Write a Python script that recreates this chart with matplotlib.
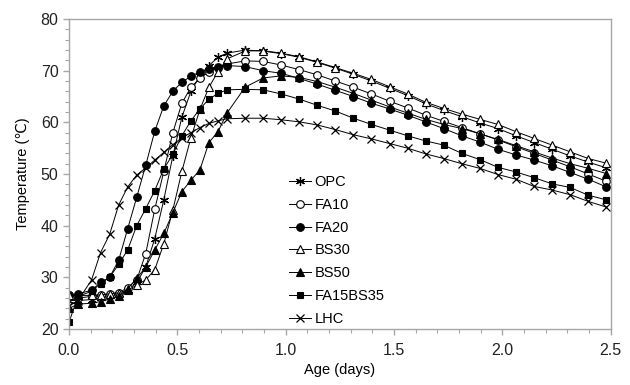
import numpy as np
import matplotlib
matplotlib.use("Agg")
import matplotlib.pyplot as plt
from matplotlib.ticker import MultipleLocator, FormatStrFormatter

plt.rcParams['font.family'] = ['Liberation Sans', 'DejaVu Sans']

hours = [0, 1, 2.5, 3.5, 4.5, 5.5, 6.5, 7.5, 8.5, 9.5, 10.5, 11.5, 12.5, 13.5, 14.5, 15.5, 16.5, 17.5,
         19.5, 21.5, 23.5, 25.5, 27.5, 29.5, 31.5, 33.5, 35.5, 37.5, 39.5, 41.5, 43.5, 45.5, 47.5,
         49.5, 51.5, 53.5, 55.5, 57.5, 59.5]
days = [h / 24.0 for h in hours]

OPC = [25.5, 25.5, 25.7, 26.0, 26.3, 26.7, 27.5, 29.0, 32.0, 37.5, 45.0, 53.5, 61.0, 66.0, 69.0, 71.0, 72.6, 73.4,
       74.0, 73.8, 73.3, 72.6, 71.6, 70.5, 69.3, 68.0, 66.6, 65.2, 63.6, 62.3, 61.1, 59.9, 58.8, 57.4, 56.1, 54.8, 53.5, 52.3, 51.2]
FA10 = [26.5, 26.0, 26.3, 26.5, 26.8, 27.0, 28.0, 29.5, 34.6, 43.2, 50.5, 58.0, 63.7, 66.8, 68.5, 69.8, 70.6, 71.3,
        71.9, 71.8, 71.1, 70.2, 69.2, 68.0, 66.8, 65.5, 64.1, 62.8, 61.4, 60.2, 59.0, 57.8, 56.6, 55.3, 54.0, 52.7, 51.4, 50.0, 48.6]
FA20 = [26.5, 26.8, 27.5, 29.0, 30.0, 33.3, 39.4, 45.5, 51.7, 58.3, 63.2, 66.0, 67.8, 68.9, 69.8, 70.4, 70.8, 71.0,
        70.8, 70.0, 69.5, 68.5, 67.4, 66.2, 65.0, 63.7, 62.6, 61.4, 60.1, 58.8, 57.4, 56.2, 54.8, 53.7, 52.7, 51.6, 50.3, 49.0, 47.5]
BS30 = [26.5, 26.5, 26.5, 26.6, 26.8, 27.0, 27.5, 28.5, 29.5, 31.5, 36.5, 43.0, 50.5, 57.0, 62.5, 66.8, 69.8, 72.3,
        73.8, 73.9, 73.4, 72.7, 71.7, 70.6, 69.5, 68.3, 66.9, 65.5, 63.9, 62.7, 61.6, 60.6, 59.6, 58.2, 56.9, 55.6, 54.3, 53.0, 52.1]
BS50 = [24.0, 24.8, 25.0, 25.3, 25.8, 26.3, 27.8, 29.8, 32.0, 35.3, 38.5, 42.5, 46.6, 48.8, 50.8, 56.1, 58.2, 61.8,
        66.8, 68.6, 69.0, 68.7, 67.9, 66.8, 65.6, 64.3, 63.0, 61.8, 60.6, 59.6, 58.8, 57.8, 56.7, 55.5, 54.3, 53.1, 52.0, 51.1, 50.1]
FA15BS35 = [21.3, 26.3, 27.3, 28.8, 30.0, 32.5, 35.3, 40.0, 43.3, 46.8, 51.0, 53.8, 57.4, 60.3, 62.6, 64.5, 65.6, 66.3,
            66.4, 66.3, 65.5, 64.5, 63.3, 62.2, 60.8, 59.6, 58.5, 57.4, 56.4, 55.6, 54.0, 52.8, 51.3, 50.4, 49.3, 48.1, 47.4, 45.9, 45.0]
LHC = [24.5, 25.5, 29.5, 34.8, 38.3, 44.0, 47.5, 49.8, 51.2, 52.7, 54.2, 55.7, 57.0, 58.0, 59.0, 59.8, 60.3, 60.7,
       60.8, 60.8, 60.5, 60.1, 59.5, 58.6, 57.6, 56.8, 55.9, 55.0, 53.9, 53.0, 52.0, 51.1, 49.9, 49.0, 47.6, 46.9, 46.0, 44.7, 43.6]

labels = ["OPC", "FA10", "FA20", "BS30", "BS50", "FA15BS35", "LHC"]
series = [OPC, FA10, FA20, BS30, BS50, FA15BS35, LHC]
styles = [
    dict(marker=(6, 2, 0), mfc='black', ms=6.5, mew=0.9),
    dict(marker='o', mfc='white', ms=5.5, mew=0.8),
    dict(marker='o', mfc='black', ms=5.5, mew=0.8),
    dict(marker='^', mfc='white', ms=5.5, mew=0.8),
    dict(marker='^', mfc='black', ms=5.5, mew=0.8),
    dict(marker='s', mfc='black', ms=5, mew=0.8),
    dict(marker='x', mfc='black', ms=5.5, mew=0.9),
]

fig = plt.figure(figsize=(6.3, 3.85), dpi=100)
ax = fig.add_axes([0.1095, 0.1455, 0.86, 0.805])

for lab, ys, st in zip(labels, series, styles):
    ax.plot(days, ys, color='black', lw=0.7, mec='black', label=lab, **st)

ax.set_xlim(0, 2.5)
ax.set_ylim(20, 80)
ax.xaxis.set_major_locator(MultipleLocator(0.5))
ax.xaxis.set_minor_locator(MultipleLocator(0.1))
ax.yaxis.set_major_locator(MultipleLocator(10))
ax.yaxis.set_minor_locator(MultipleLocator(2))
ax.xaxis.set_major_formatter(FormatStrFormatter('%.1f'))

gray = '#a6a6a6'
for sp in ax.spines.values():
    sp.set_color(gray)
    sp.set_linewidth(1.0)
ax.tick_params(which='both', direction='out', color=gray, labelsize=11.5, labelcolor='#222222')
ax.tick_params(which='major', length=4, width=1.0)
ax.tick_params(which='minor', length=3, width=0.8)
ax.tick_params(axis='x', which='major', pad=6)

ax.set_xlabel("Age (days)", fontsize=10.5, labelpad=4)
ax.set_ylabel("Temperature (\u2103)", fontsize=10.5, labelpad=8)

leg = ax.legend(loc='upper left', bbox_to_anchor=(0.395, 0.515), frameon=False,
                fontsize=10.5, handlelength=1.5, handletextpad=0.25, labelspacing=0.6,
                borderaxespad=0)

fig.savefig("out.png", dpi=100)
